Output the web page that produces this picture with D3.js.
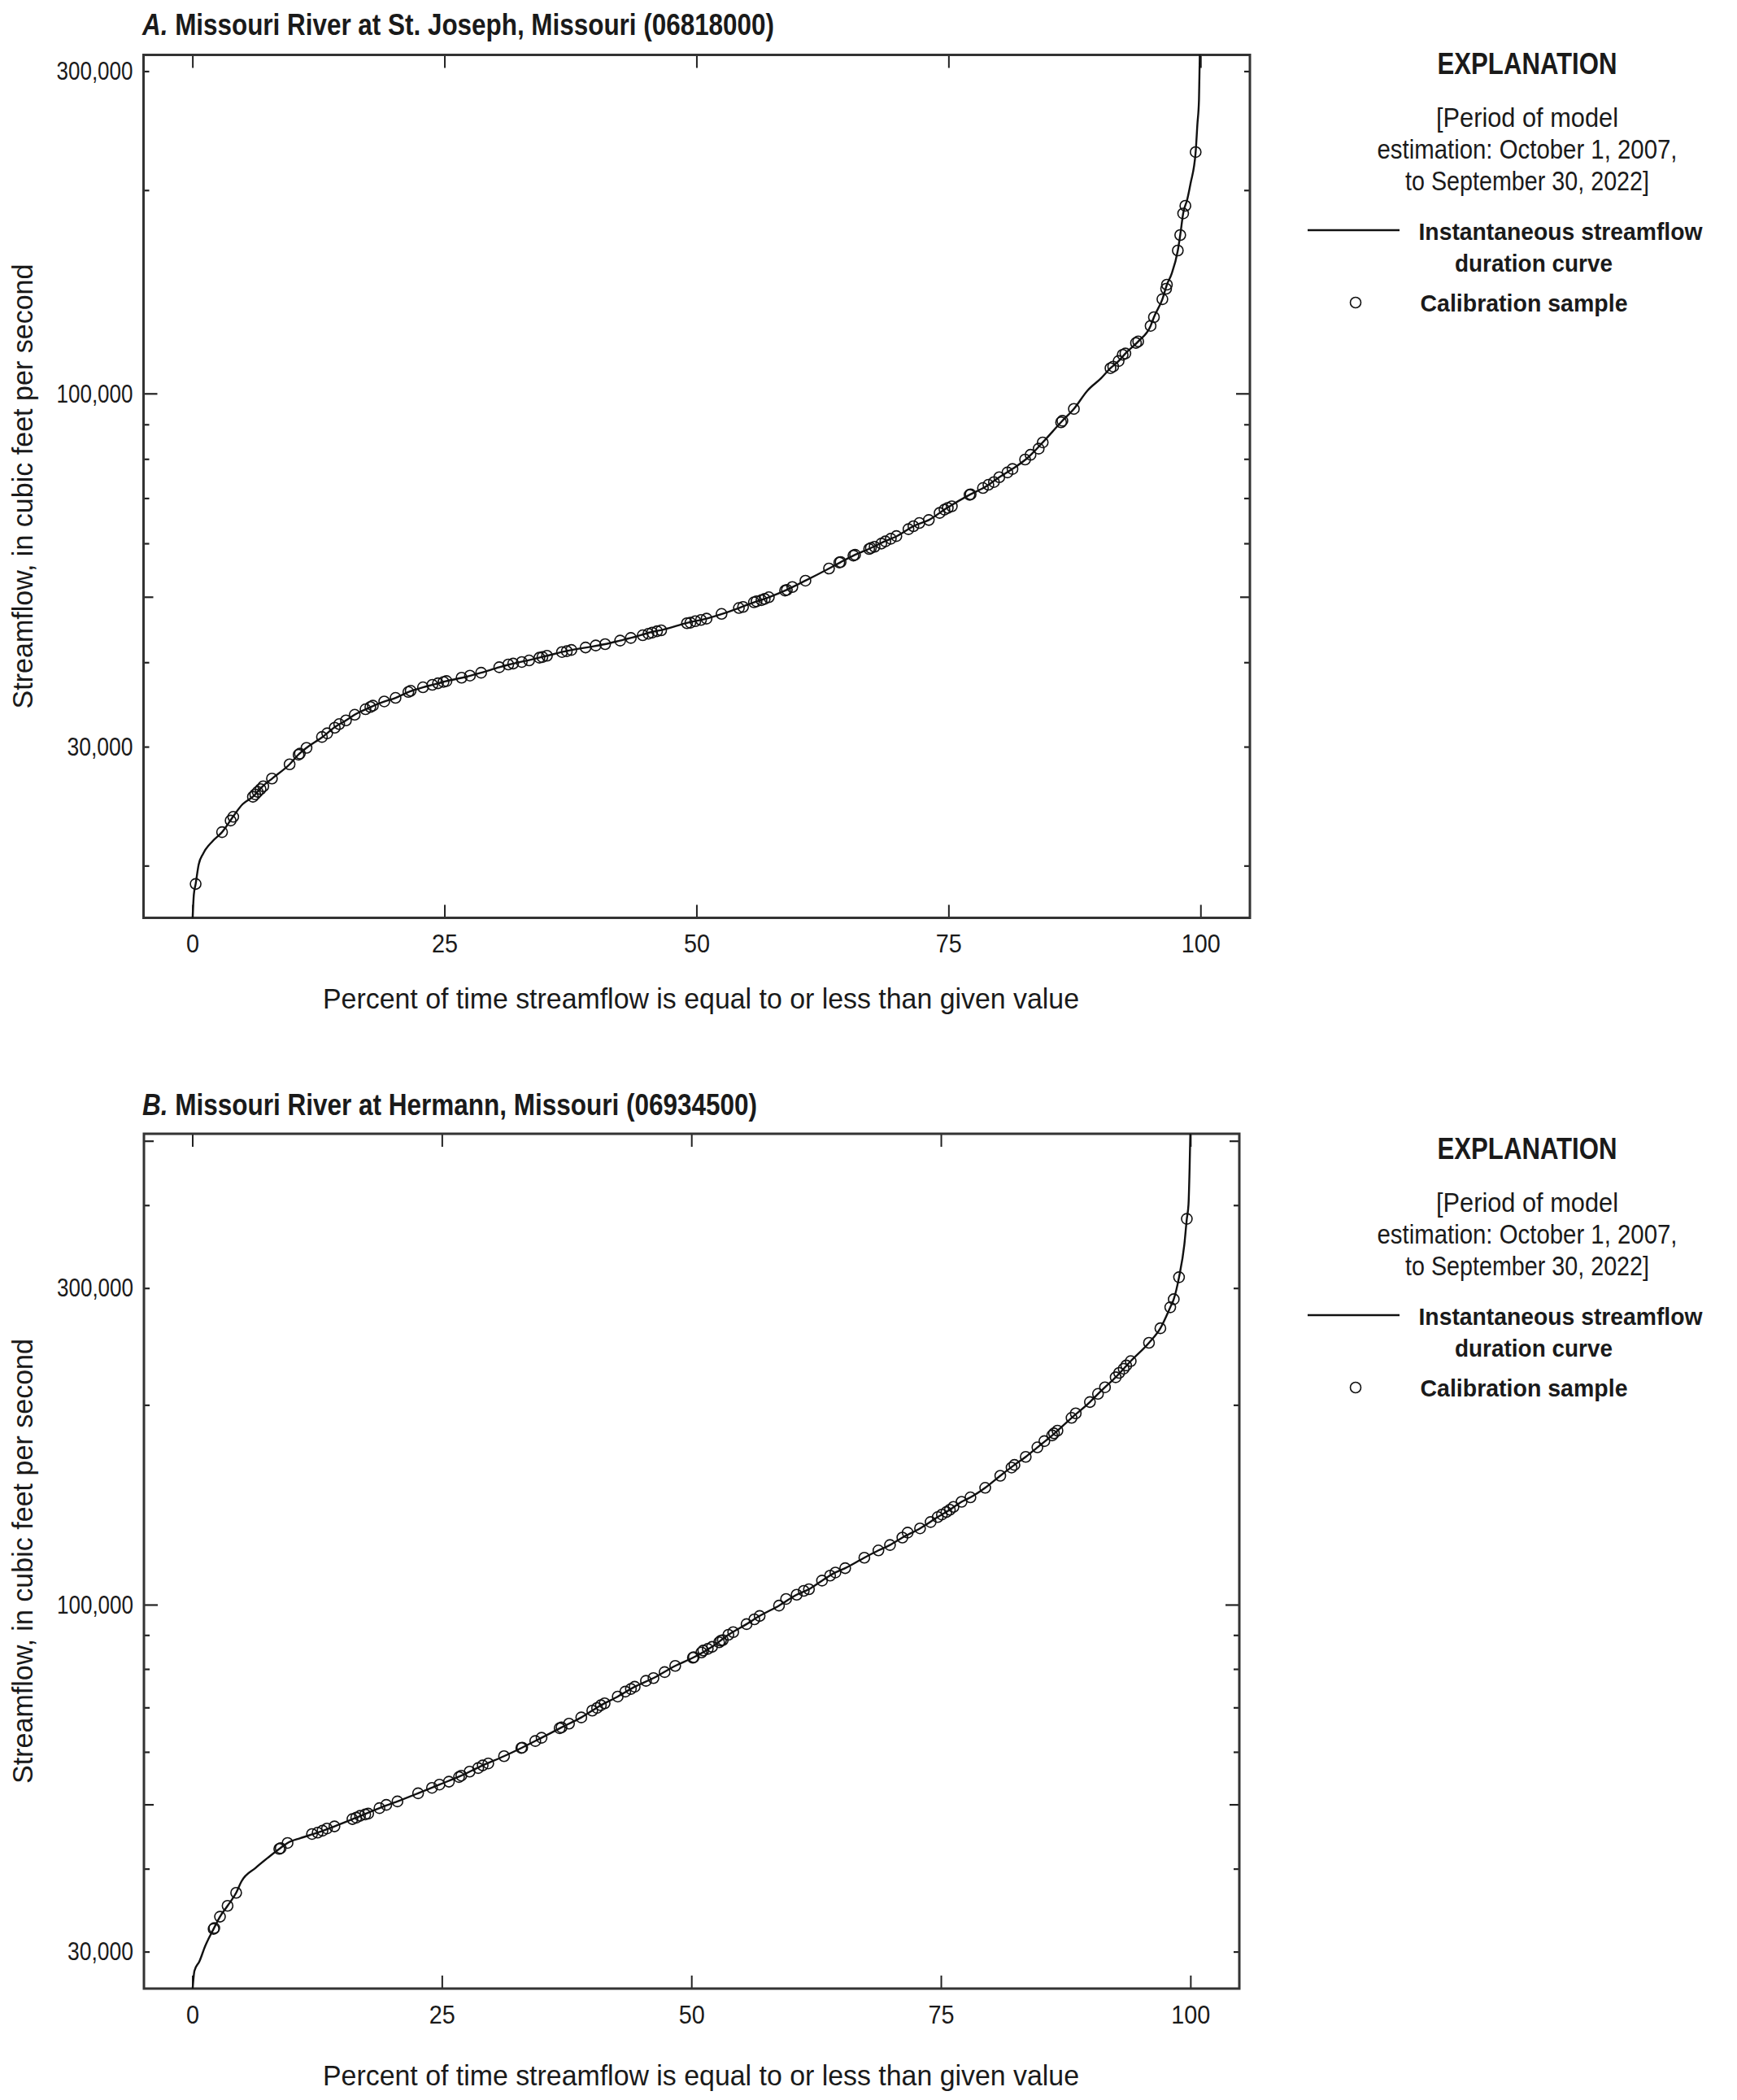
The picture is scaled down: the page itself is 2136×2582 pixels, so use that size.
<!DOCTYPE html>
<html>
<head>
<meta charset="utf-8">
<script src="https://cdn.jsdelivr.net/npm/d3@7"></script>
<style>
  body { margin: 0; background: #fff; }
  svg text { font-family: 'Liberation Sans', Arial, sans-serif; fill: #1a1a1a; }
</style>
</head>
<body>
<svg id="chart" width="2136" height="2582"></svg>
<script>
// ---- data: [percent of time, streamflow in ft3/s] ----
let stJosephCurve = [
  [0, 16500], [0.14, 18110], [0.32, 18790], [0.62, 20070], [1.07, 20840], [2.0, 21740], [2.94, 22420],
  [3.98, 23580], [4.98, 24660], [5.99, 25290], [6.96, 26210], [7.97, 26960], [9.64, 28250], [10.57, 29250],
  [11.32, 29880], [12.92, 31020], [14.12, 32060], [15.23, 32810], [16.16, 33500], [17.47, 34220], [18.96, 34950],
  [20.15, 35430], [21.57, 36210], [22.87, 36730], [24.17, 37150], [25.11, 37490], [26.78, 37950], [28.64, 38600],
  [30.44, 39330], [31.44, 39700], [33.49, 40330], [35.17, 40900], [37.22, 41600], [39.08, 42070], [40.94, 42550],
  [42.43, 43070], [43.55, 43480], [45.42, 44300], [46.72, 44720], [49.14, 45770], [51.0, 46420], [52.47, 47140],
  [54.21, 48130], [55.7, 49070], [57.18, 49930], [58.93, 51190], [60.81, 52830], [63.15, 55070], [64.25, 56200],
  [65.65, 57630], [67.26, 59020], [68.61, 60350], [69.95, 61570], [71.57, 63660], [73.05, 64970], [74.79, 67610],
  [77.09, 70800], [78.7, 72790], [80.04, 75160], [81.25, 77150], [82.87, 80340], [84.35, 84640], [86.23, 90880],
  [87.44, 94890], [88.79, 101000], [90.13, 105300], [91.07, 109000], [91.88, 111700], [92.55, 114600],
  [93.82, 119400], [95.05, 125900], [95.38, 129700], [96.22, 137900], [96.67, 144900], [97.13, 150300],
  [97.75, 162800], [97.99, 171600], [98.28, 184700], [98.69, 193900], [99.01, 204500], [99.52, 227700],
  [99.69, 250100], [99.85, 272300], [99.93, 316600], [100, 340000]
]

let stJosephSamples = [
  [0.32, 18790], [2.94, 22420], [3.79, 23320], [4.05, 23620], [6.0, 25290], [6.23, 25500], [6.47, 25720],
  [6.76, 25960], [7.03, 26210], [7.89, 26910], [9.64, 28250], [10.53, 29190], [10.66, 29300], [11.32, 29880],
  [12.85, 31010], [13.37, 31400], [14.12, 32000], [14.56, 32400], [15.23, 32810], [16.1, 33450], [17.17, 34080],
  [17.65, 34350], [17.9, 34500], [19.03, 35000], [20.15, 35430], [21.42, 36150], [21.65, 36300], [22.87, 36730],
  [23.8, 37040], [24.36, 37240], [24.91, 37410], [25.2, 37520], [26.7, 37950], [27.53, 38220], [28.64, 38600],
  [30.44, 39330], [31.33, 39700], [31.82, 39830], [32.67, 40040], [33.4, 40250], [34.42, 40630], [34.72, 40720],
  [35.17, 40900], [36.66, 41420], [37.14, 41540], [37.59, 41720], [39.0, 42070], [40.01, 42360], [40.94, 42550],
  [42.43, 43070], [43.49, 43460], [44.67, 43860], [45.23, 44090], [45.6, 44250], [46.09, 44470], [46.5, 44600],
  [49.06, 45700], [49.4, 45780], [49.89, 46020], [50.45, 46210], [51.0, 46420], [52.49, 47170], [54.21, 48130],
  [54.62, 48300], [55.7, 49070], [55.96, 49230], [56.45, 49440], [56.77, 49640], [57.18, 49930], [58.79, 51070],
  [58.97, 51200], [59.51, 51700], [60.81, 52830], [63.15, 55070], [64.17, 56200], [64.3, 56300], [65.57, 57550],
  [65.73, 57700], [67.13, 58850], [67.3, 59050], [67.67, 59300], [68.34, 59950], [68.74, 60400], [69.28, 60950],
  [69.83, 61500], [71.03, 62970], [71.52, 63600], [72.11, 64300], [73.05, 64970], [74.12, 66550], [74.6, 67300],
  [74.93, 67700], [75.33, 68070], [77.09, 70800], [77.2, 70900], [78.42, 72440], [78.96, 73250], [79.51, 73940],
  [80.04, 75160], [80.85, 76400], [81.35, 77300], [82.6, 79840], [83.14, 81140], [83.95, 82850], [84.35, 84640],
  [86.17, 90630], [86.3, 91100], [87.44, 94890], [91.07, 109000], [91.34, 109600], [91.88, 111700],
  [92.28, 114100], [92.55, 114600], [93.6, 118800], [93.82, 119400], [95.05, 125900], [95.38, 129700],
  [96.22, 137900], [96.59, 142900], [96.67, 144900], [97.75, 162800], [97.99, 171600], [98.28, 184700],
  [98.5, 189600], [99.52, 227700]
]

let hermannCurve = [
  [0, 26000], [0.21, 28060], [0.71, 29000], [1.27, 30540], [2.13, 32460], [2.77, 33870], [3.53, 35170],
  [4.39, 36790], [4.92, 38280], [6.34, 40120], [7.66, 41660], [8.71, 42850], [9.54, 43740], [10.86, 44490],
  [12.55, 45340], [14.24, 46330], [16.42, 47750], [18.75, 49360], [20.55, 50520], [22.62, 51970], [24.76, 53560],
  [26.95, 55250], [29.09, 57250], [31.23, 59110], [32.96, 60810], [34.99, 63010], [36.99, 65310], [38.97, 67610],
  [40.93, 70530], [42.62, 72700], [44.32, 75210], [46.2, 77500], [48.38, 80860], [50.15, 83170], [52.07, 86380],
  [53.77, 90190], [55.53, 93470], [56.84, 96160], [58.78, 99660], [60.55, 103500], [61.78, 105500],
  [63.09, 108700], [64.43, 111800], [65.41, 113500], [67.33, 117700], [68.74, 120700], [69.9, 123000],
  [71.14, 126200], [72.91, 130300], [74.68, 135500], [75.9, 139000], [77.07, 142900], [77.96, 145100],
  [79.44, 150000], [80.95, 156400], [82.37, 162400], [83.5, 167000], [84.67, 172600], [86.15, 179900],
  [88.09, 191200], [89.93, 202000], [90.74, 207800], [91.44, 212600], [92.51, 220100], [93.31, 226700],
  [94.02, 232800], [95.85, 248100], [96.99, 260900], [97.98, 280600], [98.33, 288600], [98.86, 311500],
  [99.39, 348600], [99.64, 381400], [99.81, 401200], [99.92, 456000], [100, 520000]
]

let hermannSamples = [
  [2.13, 32460], [2.2, 32560], [2.77, 33870], [3.53, 35170], [4.39, 36790], [8.71, 42850], [8.85, 42950],
  [9.54, 43740], [11.99, 45120], [12.55, 45340], [13.04, 45640], [13.49, 45990], [14.24, 46330], [16.04, 47520],
  [16.42, 47750], [16.8, 48060], [17.32, 48290], [17.62, 48430], [18.75, 49360], [19.43, 49920], [20.55, 50520],
  [22.62, 51970], [24.01, 52960], [24.76, 53560], [25.71, 54110], [26.72, 54990], [26.95, 55250], [27.78, 56030],
  [28.64, 56720], [29.09, 57250], [29.65, 57640], [31.23, 59110], [32.96, 60810], [33.05, 60900], [34.36, 62300],
  [34.99, 63010], [36.8, 65130], [36.99, 65310], [37.74, 66180], [38.97, 67610], [40.07, 69230], [40.55, 69880],
  [40.93, 70530], [41.31, 71010], [42.62, 72700], [43.38, 73950], [43.94, 74640], [44.32, 75210], [45.45, 76770],
  [46.2, 77500], [47.32, 79130], [48.38, 80860], [50.15, 83170], [50.24, 83340], [51.01, 84710], [51.19, 85290],
  [51.64, 85770], [52.07, 86380], [52.78, 87760], [52.96, 88250], [53.15, 88420], [53.71, 90080], [54.19, 90910],
  [55.53, 93470], [56.31, 95040], [56.84, 96160], [58.78, 99660], [59.49, 102000], [60.55, 103500],
  [61.26, 104900], [61.78, 105500], [63.09, 108700], [63.9, 110600], [64.43, 111800], [65.41, 113500],
  [67.33, 117700], [68.74, 120700], [69.9, 123000], [71.14, 126200], [71.67, 128400], [72.91, 130300],
  [73.97, 133200], [74.68, 135500], [75.1, 136700], [75.55, 137900], [75.9, 139000], [76.26, 140400],
  [77.07, 142900], [77.96, 145100], [79.44, 150000], [80.95, 156400], [82.08, 160900], [82.37, 162400],
  [83.5, 167000], [84.67, 172600], [85.37, 176400], [86.15, 179900], [86.33, 181200], [86.68, 182900],
  [88.09, 191200], [88.51, 194200], [89.93, 202000], [90.74, 207800], [91.44, 212600], [92.51, 220100],
  [92.86, 223500], [93.31, 226700], [93.57, 229300], [94.02, 232800], [95.85, 248100], [96.99, 260900],
  [97.98, 280600], [98.33, 288600], [98.86, 311500], [99.64, 381400]
]

// ---- ticks and text ----
let xTickValues = [0, 25, 50, 75, 100]
let yTicksA = [20000, 30000, 40000, 50000, 60000, 70000, 80000, 90000, 100000, 200000, 300000]
let yTicksB = [30000, 40000, 50000, 60000, 70000, 80000, 90000, 100000, 200000, 300000, 400000, 500000]
let yLabelValues = [30000, 100000, 300000]
let panelLetters = ["A.", "B."]
let panelNames = [" Missouri River at St. Joseph, Missouri (06818000)", " Missouri River at Hermann, Missouri (06934500)"]
let legendNote = ["[Period of model", "estimation: October 1, 2007,", "to September 30, 2022]"]
let xTitle = "Percent of time streamflow is equal to or less than given value"
let yTitle = "Streamflow, in cubic feet per second"

let svg = d3.select("#chart")

//layout of the two panels
let panels = [
  {curve: stJosephCurve, samples: stJosephSamples, yTicks: yTicksA, yDomain: [16740, 317100],
   left: 176.5, right: 1537, top: 67.5, bottom: 1128.5, titleY: 43, titleW: 777, xTitleY: 1240, legendShift: 0},
  {curve: hermannCurve, samples: hermannSamples, yTicks: yTicksB, yDomain: [26390, 512400],
   left: 177, right: 1524, top: 1394, bottom: 2445, titleY: 1371, titleW: 756, xTitleY: 2564, legendShift: 1334}
]

//the figure uses a condensed face, so squeeze text to the widths measured on it
function condensed(sel, w) {
  return sel.attr("textLength", w).attr("lengthAdjust", "spacingAndGlyphs")
}

function tickLength(v) {
  let m = v / Math.pow(10, Math.floor(Math.log10(v) + 1e-9))
  if (Math.abs(m - 1) < 1e-6) return 17
  if (Math.abs(m - 5) < 1e-6) return 12
  return 7
}

panels.forEach((p, i) => {
  let xscale = d3.scaleLinear().domain([-4.85, 104.9]).range([p.left, p.right])
  let yscale = d3.scaleLog().domain(p.yDomain).range([p.bottom, p.top])
  let g = svg.append("g")

  //title
  let title = g.append("text")
    .attr("x", 175).attr("y", p.titleY)
    .attr("font-size", 36).attr("font-weight", "bold")
  title.append("tspan").attr("font-style", "italic").text(panelLetters[i])
  title.append("tspan").text(panelNames[i])
  condensed(title, p.titleW)

  //clip
  g.append("clipPath").attr("id", "clip" + i)
    .append("rect")
    .attr("x", p.left).attr("y", p.top)
    .attr("width", p.right - p.left).attr("height", p.bottom - p.top)

  //y ticks, inward on both sides
  let leftAxis = g.append("g")
    .attr("transform", "translate(" + p.left + ",0)")
    .call(d3.axisRight(yscale).tickValues(p.yTicks).tickFormat("").tickSizeOuter(0))
  leftAxis.select(".domain").remove()
  leftAxis.selectAll(".tick line").attr("x2", d => tickLength(d)).attr("stroke", "#222").attr("stroke-width", 2.2)

  let rightAxis = g.append("g")
    .attr("transform", "translate(" + p.right + ",0)")
    .call(d3.axisLeft(yscale).tickValues(p.yTicks).tickFormat("").tickSizeOuter(0))
  rightAxis.select(".domain").remove()
  rightAxis.selectAll(".tick line").attr("x2", d => -tickLength(d)).attr("stroke", "#222").attr("stroke-width", 2.2)

  //y labels
  let yLabels = g.append("g")
    .attr("transform", "translate(" + p.left + ",0)")
    .call(d3.axisLeft(yscale).tickValues(yLabelValues).tickSize(0).tickPadding(13).tickFormat(d3.format(",")))
  yLabels.select(".domain").remove()
  yLabels.attr("font-family", null).attr("font-size", null)
  yLabels.selectAll("text").attr("font-size", 32).attr("fill", "#1a1a1a")
    .each(function(d) { condensed(d3.select(this), d >= 100000 ? 94 : 81) })

  //x ticks, inward at bottom and top
  let bottomAxis = g.append("g")
    .attr("transform", "translate(0," + p.bottom + ")")
    .call(d3.axisTop(xscale).tickValues(xTickValues).tickFormat("").tickSize(16).tickSizeOuter(0))
  bottomAxis.select(".domain").remove()
  bottomAxis.selectAll(".tick line").attr("stroke", "#222").attr("stroke-width", 2)

  let topAxis = g.append("g")
    .attr("transform", "translate(0," + p.top + ")")
    .call(d3.axisBottom(xscale).tickValues(xTickValues).tickFormat("").tickSize(16).tickSizeOuter(0))
  topAxis.select(".domain").remove()
  topAxis.selectAll(".tick line").attr("stroke", "#222").attr("stroke-width", 2)

  let xLabels = g.append("g")
    .attr("transform", "translate(0," + p.bottom + ")")
    .call(d3.axisBottom(xscale).tickValues(xTickValues).tickSize(0).tickPadding(20))
  xLabels.select(".domain").remove()
  xLabels.attr("font-family", null).attr("font-size", null)
  xLabels.selectAll("text").attr("font-size", 32).attr("fill", "#1a1a1a")
    .each(function(d) { condensed(d3.select(this), String(d).length * 16) })

  //frame
  g.append("rect")
    .attr("x", p.left).attr("y", p.top)
    .attr("width", p.right - p.left).attr("height", p.bottom - p.top)
    .attr("fill", "none").attr("stroke", "#333").attr("stroke-width", 3)

  //duration curve
  let valueLine = d3.line()
    .x(d => xscale(d[0]))
    .y(d => yscale(d[1]))
    .curve(d3.curveMonotoneX)

  g.append("path")
    .datum(p.curve)
    .attr("clip-path", "url(#clip" + i + ")")
    .attr("d", valueLine)
    .attr("fill", "none").attr("stroke", "#111").attr("stroke-width", 2.4)

  //calibration samples
  g.append("g").selectAll("circle")
    .data(p.samples)
    .enter()
    .append("circle")
    .attr("cx", d => xscale(d[0]))
    .attr("cy", d => yscale(d[1]))
    .attr("r", 6.5)
    .attr("fill", "none").attr("stroke", "#111").attr("stroke-width", 1.6)

  //axis titles
  condensed(g.append("text")
    .attr("x", 862).attr("y", p.xTitleY)
    .attr("text-anchor", "middle").attr("font-size", 35)
    .text(xTitle), 930)

  condensed(g.append("text")
    .attr("transform", "translate(40," + ((p.top + p.bottom) / 2) + ") rotate(-90)")
    .attr("text-anchor", "middle").attr("font-size", 35)
    .text(yTitle), 547)

  //explanation
  let lg = g.append("g").attr("transform", "translate(0," + p.legendShift + ")")
  condensed(lg.append("text").attr("x", 1878).attr("y", 91)
    .attr("text-anchor", "middle").attr("font-size", 37).attr("font-weight", "bold")
    .text("EXPLANATION"), 221)
  let noteWidths = [224, 369, 300]
  legendNote.forEach((t, k) => {
    condensed(lg.append("text").attr("x", 1878).attr("y", 156 + k * 39)
      .attr("text-anchor", "middle").attr("font-size", 34)
      .text(t), noteWidths[k])
  })
  lg.append("line")
    .attr("x1", 1608).attr("x2", 1721).attr("y1", 283).attr("y2", 283)
    .attr("stroke", "#111").attr("stroke-width", 2.4)
  condensed(lg.append("text").attr("x", 1919).attr("y", 295)
    .attr("text-anchor", "middle").attr("font-size", 30).attr("font-weight", "bold")
    .text("Instantaneous streamflow"), 349)
  condensed(lg.append("text").attr("x", 1886).attr("y", 334)
    .attr("text-anchor", "middle").attr("font-size", 30).attr("font-weight", "bold")
    .text("duration curve"), 194)
  lg.append("circle")
    .attr("cx", 1667).attr("cy", 372).attr("r", 6.5)
    .attr("fill", "none").attr("stroke", "#111").attr("stroke-width", 1.6)
  condensed(lg.append("text").attr("x", 1874).attr("y", 383)
    .attr("text-anchor", "middle").attr("font-size", 30).attr("font-weight", "bold")
    .text("Calibration sample"), 255)
})
</script>
</body>
</html>
